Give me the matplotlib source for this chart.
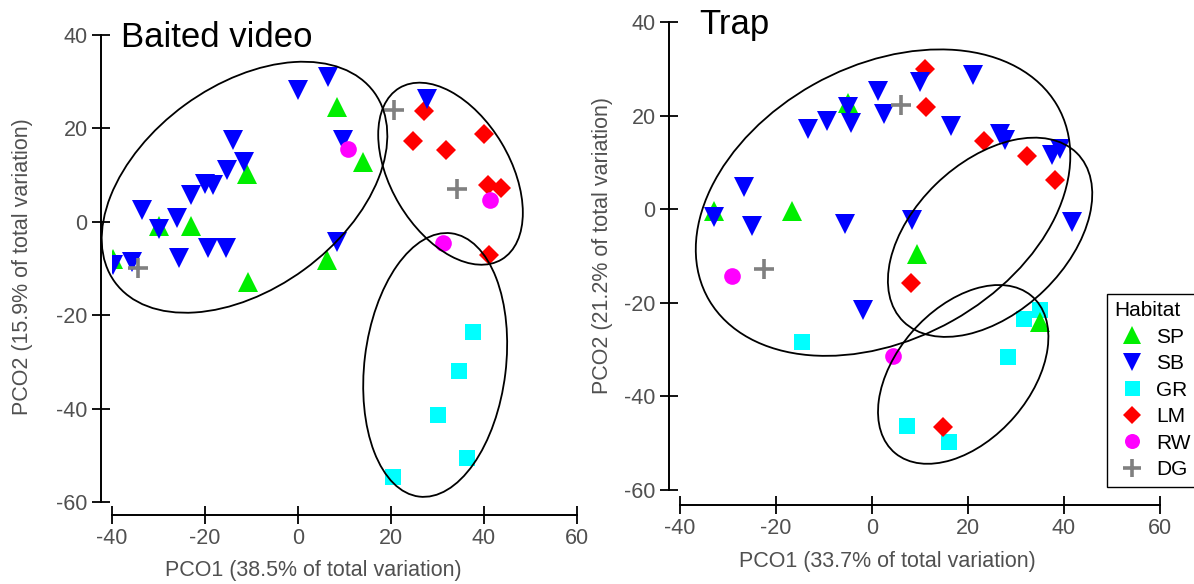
import matplotlib
matplotlib.use("Agg")
import matplotlib.pyplot as plt
from matplotlib.patches import Ellipse
from matplotlib.lines import Line2D

plt.rcParams['font.family'] = ['Liberation Sans', 'DejaVu Sans']
plt.rcParams['axes.unicode_minus'] = False

# ---------------------------------------------------------------------------
# Data read off the two PCO ordinations
# ---------------------------------------------------------------------------
habitats = ['SP', 'SB', 'GR', 'LM', 'RW', 'DG']

# Baited video
bv_SP = [(8.4, 24.6), (-11, 10.3), (-30, -1), (-23, -1), (-39.8, -8),
         (-10.8, -12.8), (6.2, -8.1), (14, 12.8)]
bv_SB = [(0, 28.3), (6.5, 31), (-14, 17.5), (-11.6, 12.8), (-15.3, 11.1),
         (-20, 8.1), (-18.3, 7.9), (-23, 5.8), (-33.5, 2.6), (-30, -1.5),
         (-26, 0.9), (-25.5, -7.7), (-19.3, -5.6), (-15.5, -5.6),
         (-39.8, -9.2), (-35.7, -8.6), (8.4, -4.4), (9.7, 17.5), (27.8, 26.3)]
bv_GR = [(37.7, -23.5), (34.6, -32), (30.2, -41.3), (36.3, -50.6), (20.4, -54.6)]
bv_LM = [(27, 23.8), (24.8, 17.3), (31.8, 15.4), (40, 18.8), (40.9, 7.9),
         (43.6, 7.3), (41.1, -7.1)]
bv_RW = [(10.8, 15.6), (41.3, 4.7), (31.2, -4.5)]
bv_DG = [(20.6, 24), (34.3, 7), (-34.4, -9.8)]
# cluster overlays: (x0, y0, semi-major, semi-minor, angle deg)
bv_clusters = [(-11.5, 7.4, 34.5, 21.8, 36),
               (32.8, 10.3, 21.4, 12.8, -59),
               (29.5, -30.65, 28.4, 15.2, 83)]

# Trap
tr_SP = [(-5, 22.6), (-32.9, -0.4), (-16.7, -0.4), (9.4, -9.6), (35, -24)]
tr_SB = [(10, 27.1), (1.25, 25.2), (-5, 21.8), (2.5, 20.3), (-4.4, 18.4),
         (-9.4, 18.8), (-13.3, 17.1), (21, 28.6), (16.4, 17.8), (26.7, 16),
         (27.7, 14.8), (37.5, 11.5), (39.2, 12.8), (41.7, -2.7), (8.3, -2.4),
         (-1.9, -21.6), (-26.7, 4.7), (-32.9, -1.7), (-25, -3.6), (-5.6, -3.2)]
tr_GR = [(-14.6, -28.4), (35, -21.6), (31.7, -23.5), (28.3, -31.6),
         (7.3, -46.3), (16, -49.8)]
tr_LM = [(11, 29.9), (11.25, 21.8), (23.3, 14.5), (32.3, 11.4), (38.1, 6.2),
         (8.1, -15.7), (14.8, -46.6)]
tr_RW = [(-29.2, -14.3), (4.4, -31.4)]
tr_DG = [(6, 22.2), (-22.5, -12.8)]
tr_clusters = [(2.3, 1.4, 41.8, 29.1, 30),
               (24.6, -6.0, 25.5, 16, 45),
               (19, -35.3, 22, 14, 50)]

# ---------------------------------------------------------------------------
# Styles
# ---------------------------------------------------------------------------
style = {
    'SP': dict(marker='^', color='#00ee00', ms=14),
    'SB': dict(marker='v', color='#0000ff', ms=14),
    'GR': dict(marker='s', color='#00ffff', ms=12),
    'LM': dict(marker='D', color='#ff0000', ms=10),
    'RW': dict(marker='o', color='#ff00ff', ms=12),
    'DG': dict(marker='+', color='#808080', ms=15, mew=2.6),
}
draw_order = ['GR', 'LM', 'SP', 'SB', 'RW', 'DG']
grey = '#505050'


def panel(ax, groups, clusters, title, title_x, xlab, ylab, xoff):
    for h in draw_order:
        pts = groups[h]
        st = style[h]
        ax.plot([p[0] for p in pts], [p[1] for p in pts], ls='none',
                marker=st['marker'], ms=st['ms'], color=st['color'],
                mew=st.get('mew', 0), mec=st['color'], zorder=3)
    for x0, y0, a, b, ang in clusters:
        ax.add_patch(Ellipse((x0, y0), 2 * a, 2 * b, angle=ang, fill=False,
                             ec='black', lw=1.3, zorder=4, clip_on=False))
    ax.set_xlim(-40, 60)
    ax.set_ylim(-60, 40)
    ax.set_xticks(range(-40, 61, 20))
    ax.set_yticks(range(-60, 41, 20))
    for s in ('top', 'right'):
        ax.spines[s].set_visible(False)
    ax.spines['left'].set_position(('outward', 8))
    ax.spines['bottom'].set_position(('outward', xoff))
    for s in ('left', 'bottom'):
        ax.spines[s].set_linewidth(1.4)
    ax.tick_params(direction='inout', length=13, width=1.3, labelsize=15.5,
                   labelcolor=grey, pad=3)
    ax.set_xlabel(xlab, fontsize=15.5, color=grey)
    ax.set_ylabel(ylab, fontsize=15.5, color=grey)
    ax.text(title_x, 0.975, title, transform=ax.transAxes, fontsize=25,
            va='baseline', ha='left')


fig = plt.figure(figsize=(11.94, 5.84), dpi=100)
axL = fig.add_axes([112 / 1194, 82 / 584, 465 / 1194, 467 / 584])
axR = fig.add_axes([680 / 1194, 94 / 584, 480 / 1194, 468 / 584])

bv = dict(SP=bv_SP, SB=bv_SB, GR=bv_GR, LM=bv_LM, RW=bv_RW, DG=bv_DG)
tr = dict(SP=tr_SP, SB=tr_SB, GR=tr_GR, LM=tr_LM, RW=tr_RW, DG=tr_DG)

panel(axL, bv, bv_clusters, 'Baited video', 0.02,
      'PCO1 (38.5% of total variation)', 'PCO2 (15.9% of total variation)', 9)
panel(axR, tr, tr_clusters, 'Trap', 0.04,
      'PCO1 (33.7% of total variation)', 'PCO2 (21.2% of total variation)', 10.5)

axL.xaxis.set_label_coords(0.432, -0.125)
axL.yaxis.set_label_coords(-0.17, 0.503)
axR.xaxis.set_label_coords(0.431, -0.13)
axR.yaxis.set_label_coords(-0.14, 0.523)

handles = [Line2D([], [], ls='none', marker=style[h]['marker'],
                  ms=style[h]['ms'] * 0.9, color=style[h]['color'],
                  mew=style[h].get('mew', 0), mec=style[h]['color'])
           for h in habitats]
leg = fig.legend(handles, habitats, title='Habitat', loc='upper left',
                 bbox_to_anchor=(1107 / 1194, 1 - 294 / 584),
                 fontsize=15, title_fontsize=15, alignment='left',
                 frameon=True, fancybox=False, framealpha=1,
                 edgecolor='black', borderpad=0.35, handlelength=1.7,
                 handletextpad=0.3, labelspacing=0.36, borderaxespad=0)
leg.get_frame().set_linewidth(1.0)

fig.savefig('out.png', dpi=100)
